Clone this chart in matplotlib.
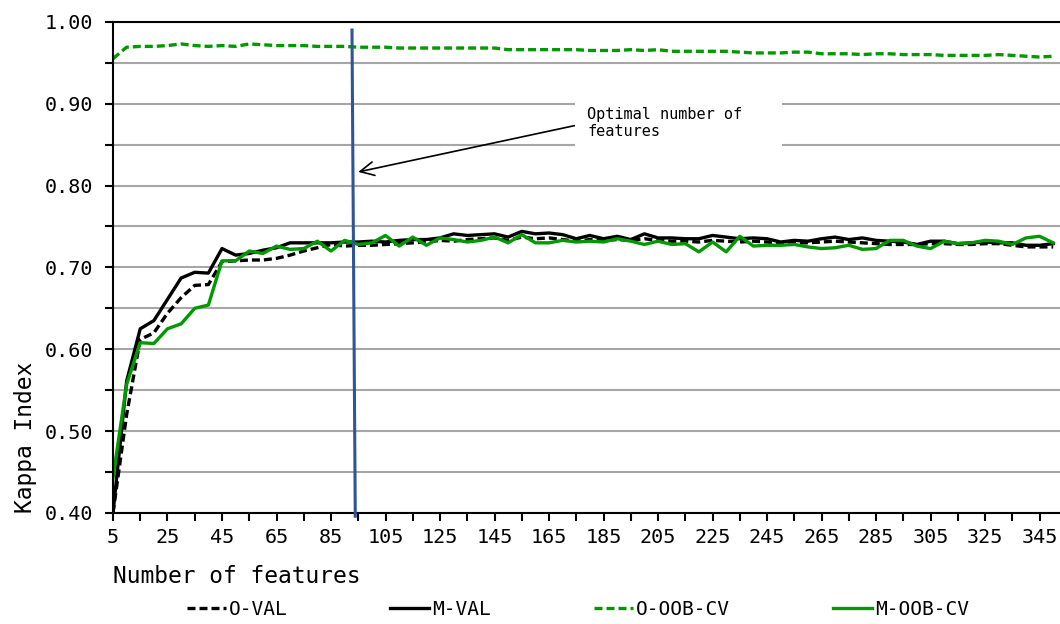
import numpy as np
import matplotlib
matplotlib.use("Agg")
import matplotlib.pyplot as plt
from matplotlib.ticker import MultipleLocator, FuncFormatter

plt.rcParams['font.family'] = ['DejaVu Sans Mono']

# number of features: 5, 10, ..., 350
n_features = list(range(5, 355, 5))

o_val = [0.400, 0.520, 0.612, 0.620, 0.644, 0.663, 0.678, 0.679, 0.707, 0.708,
         0.709, 0.709, 0.711, 0.715, 0.720, 0.724, 0.728, 0.726, 0.727, 0.727,
         0.728, 0.729, 0.730, 0.731, 0.733, 0.732, 0.734, 0.735, 0.736, 0.733,
         0.737, 0.735, 0.736, 0.734, 0.732, 0.734, 0.733, 0.734, 0.733, 0.735,
         0.733, 0.732, 0.732, 0.731, 0.733, 0.732, 0.731, 0.732, 0.731, 0.729,
         0.730, 0.730, 0.731, 0.732, 0.731, 0.730, 0.729, 0.728, 0.728, 0.728,
         0.729, 0.729, 0.728, 0.728, 0.729, 0.729, 0.727, 0.725, 0.725, 0.725]

m_val = [0.400, 0.561, 0.625, 0.635, 0.661, 0.687, 0.694, 0.693, 0.723, 0.715,
         0.717, 0.721, 0.724, 0.730, 0.730, 0.730, 0.730, 0.731, 0.731, 0.732,
         0.731, 0.733, 0.734, 0.734, 0.736, 0.741, 0.739, 0.740, 0.741, 0.737,
         0.744, 0.741, 0.742, 0.740, 0.735, 0.739, 0.735, 0.738, 0.734, 0.741,
         0.736, 0.736, 0.735, 0.735, 0.739, 0.737, 0.735, 0.736, 0.735, 0.731,
         0.733, 0.732, 0.735, 0.737, 0.734, 0.736, 0.733, 0.732, 0.731, 0.728,
         0.732, 0.732, 0.729, 0.730, 0.731, 0.730, 0.730, 0.727, 0.727, 0.729]

o_oob_cv = [0.955, 0.969, 0.970, 0.970, 0.971, 0.973, 0.971, 0.970, 0.971, 0.970,
            0.973, 0.972, 0.971, 0.971, 0.971, 0.970, 0.970, 0.970, 0.969, 0.969,
            0.969, 0.968, 0.968, 0.968, 0.968, 0.968, 0.968, 0.968, 0.968, 0.966,
            0.966, 0.966, 0.966, 0.966, 0.966, 0.965, 0.965, 0.965, 0.966, 0.965,
            0.966, 0.964, 0.964, 0.964, 0.964, 0.964, 0.963, 0.962, 0.962, 0.962,
            0.963, 0.963, 0.961, 0.961, 0.961, 0.960, 0.961, 0.961, 0.960, 0.960,
            0.960, 0.959, 0.959, 0.959, 0.959, 0.960, 0.959, 0.958, 0.957, 0.958]

m_oob_cv = [0.443, 0.557, 0.608, 0.607, 0.625, 0.631, 0.650, 0.654, 0.708, 0.708,
            0.720, 0.717, 0.726, 0.722, 0.723, 0.732, 0.720, 0.733, 0.728, 0.730,
            0.739, 0.726, 0.737, 0.727, 0.736, 0.734, 0.731, 0.733, 0.737, 0.730,
            0.740, 0.730, 0.730, 0.733, 0.731, 0.732, 0.731, 0.735, 0.732, 0.728,
            0.732, 0.728, 0.729, 0.719, 0.731, 0.719, 0.738, 0.726, 0.727, 0.727,
            0.728, 0.725, 0.723, 0.724, 0.727, 0.722, 0.723, 0.733, 0.733, 0.726,
            0.723, 0.732, 0.729, 0.730, 0.733, 0.732, 0.728, 0.736, 0.738, 0.730]

# hand-drawn marker for the optimal number of features (slightly slanted)
opt_line_x = [92.7, 93.9]
opt_line_y = [0.990, 0.396]

green = '#009900'
blue = '#2F5597'
dash = (0, (2.4, 1.2))

fig = plt.figure(figsize=(10.6, 6.24), dpi=100)
ax = fig.add_axes([0.1066, 0.178, 0.8934, 0.787])

ax.plot(n_features, o_val, color='black', lw=2.4, linestyle=dash, label='O-VAL')
ax.plot(n_features, m_val, color='black', lw=2.4, label='M-VAL')
ax.plot(n_features, o_oob_cv, color=green, lw=2.4, linestyle=dash, label='O-OOB-CV')
ax.plot(n_features, m_oob_cv, color=green, lw=2.4, label='M-OOB-CV')

ax.plot(opt_line_x, opt_line_y, color=blue, lw=2.2, clip_on=False, zorder=5)

ax.set_xlim(5, 352.5)
ax.set_ylim(0.40, 1.00)

ax.yaxis.set_major_locator(MultipleLocator(0.05))
ax.yaxis.set_major_formatter(FuncFormatter(
    lambda v, p: f"{v:.2f}" if round(v * 100) % 10 == 0 else ""))
ax.set_xticks(range(5, 355, 10))
ax.xaxis.set_major_formatter(FuncFormatter(
    lambda v, p: f"{int(v)}" if (int(v) - 5) % 20 == 0 else ""))

ax.grid(axis='y', color='#A6A6A6', lw=1.5)
ax.set_axisbelow(True)
ax.spines['right'].set_visible(False)
for s in ['left', 'bottom', 'top']:
    ax.spines[s].set_linewidth(1.5)
ax.tick_params(axis='both', labelsize=14.5, length=6, width=1.5, direction='out')
ax.tick_params(axis='y', pad=8)
ax.tick_params(axis='x', pad=5)

ax.set_xlabel('Number of features', fontsize=16.5, loc='left', labelpad=13)
ax.set_ylabel('Kappa Index', fontsize=16.5, loc='bottom', labelpad=6)

# trailing spaces widen the white label box like the original text box
ax.annotate('Optimal number of   \nfeatures', xy=(95, 0.8166), xytext=(179, 0.8765),
            fontsize=11, ha='left', va='center',
            bbox=dict(facecolor='white', edgecolor='none', pad=9),
            arrowprops=dict(arrowstyle='->,head_length=0.9,head_width=0.45',
                            color='black', lw=1.2, relpos=(0, 0.5),
                            shrinkA=0, shrinkB=0))

fig.legend(loc='center', bbox_to_anchor=(0.545, 0.024), ncol=4, frameon=False,
           fontsize=14, handlelength=2.0, handletextpad=0.15, columnspacing=5.3)

fig.savefig('out.png', dpi=100)
